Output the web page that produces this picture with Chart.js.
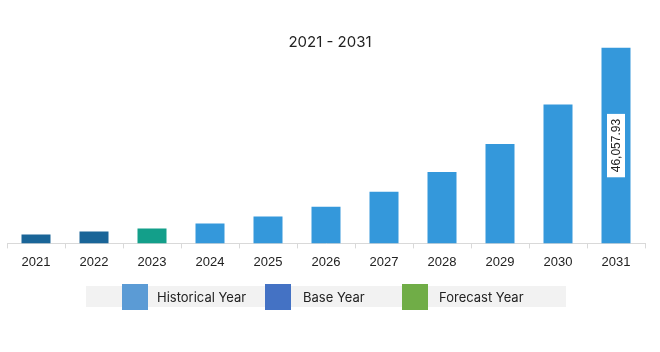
<!DOCTYPE html>
<html>
<head>
<meta charset="utf-8">
<script src="https://cdn.jsdelivr.net/npm/chart.js@4"></script>
<style>
  body { margin: 0; background: #fff; }
  #wrap { position: relative; width: 660px; height: 352px; }
  #title { position: absolute; left: 0; width: 660px; top: 32px; text-align: center;
           font: 15px Inter, "Noto Sans", sans-serif; color: #222; }
  #legend { position: absolute; left: 86px; top: 286px; width: 480px; height: 21px; background: #f2f2f2; }
  .sw { position: absolute; top: -2px; width: 26px; height: 26px; }
  .lt { position: absolute; top: 3px; font: 13px Inter, "Noto Sans", sans-serif; color: #222; }
</style>
</head>
<body>
<div id="wrap">
  <canvas id="myChart" width="660" height="352"></canvas>
  <div id="title">2021 - 2031</div>
  <div id="legend"></div>
</div>
<script>
const years = ["2021", "2022", "2023", "2024", "2025", "2026", "2027", "2028", "2029", "2030", "2031"];
const marketValues = [2100, 2800, 3500, 4680, 6310, 8650, 12160, 16830, 23380, 32730, 46057.93];
const barColors = ["#1a6598", "#1a6598", "#139f8a", "#3498db", "#3498db", "#3498db", "#3498db", "#3498db", "#3498db", "#3498db", "#3498db"];
const legendNames = ["Historical Year", "Base Year", "Forecast Year"];
const legendColors = ["#5b9bd5", "#4472c4", "#70ad47"];
const labelText = "46,057.93";

// legend squares and text, laid out like the reference
const swatchX = [36, 179, 316];
const textX = [71, 217, 353];
const legend = document.getElementById("legend");
legendNames.forEach(function (name, i) {
  const sw = document.createElement("div");
  sw.className = "sw";
  sw.style.left = swatchX[i] + "px";
  sw.style.background = legendColors[i];
  legend.appendChild(sw);
  const t = document.createElement("div");
  t.className = "lt";
  t.style.left = textX[i] + "px";
  t.textContent = name;
  legend.appendChild(t);
});

// white box with rotated value on the last bar
const lastLabel = {
  id: "lastLabel",
  afterDatasetsDraw(chart) {
    const meta = chart.getDatasetMeta(0);
    const bar = meta.data[meta.data.length - 1];
    const ctx = chart.ctx;
    const cy = (bar.y + bar.base) / 2;
    ctx.save();
    ctx.translate(bar.x, cy);
    ctx.rotate(-Math.PI / 2);
    ctx.font = "12px 'Liberation Sans', Arial, sans-serif";
    const w = ctx.measureText(labelText).width + 10;
    ctx.fillStyle = "#fff";
    ctx.fillRect(-w / 2, -9, w, 18);
    ctx.fillStyle = "#222";
    ctx.textAlign = "center";
    ctx.textBaseline = "middle";
    ctx.fillText(labelText, 0, 1);
    ctx.restore();
  }
};

new Chart("myChart", {
  type: "bar",
  data: {
    labels: years,
    datasets: [{
      backgroundColor: barColors,
      data: marketValues,
      barPercentage: 0.5,
      categoryPercentage: 1
    }]
  },
  options: {
    responsive: false,
    animation: false,
    layout: { padding: { left: 7, right: 15, top: 20, bottom: 76 } },
    plugins: {
      legend: { display: false },
      title: { display: false },
      tooltip: { enabled: false }
    },
    scales: {
      y: { display: false, min: 0, max: 52600 },
      x: {
        border: { color: "#d9d9d9", width: 1 },
        grid: { offset: true, drawOnChartArea: false, tickLength: 5, color: "#d9d9d9" },
        ticks: { color: "#222", padding: 6, font: { size: 13, family: "'Liberation Sans', Arial, sans-serif" } }
      }
    }
  },
  plugins: [lastLabel]
});
</script>
</body>
</html>
